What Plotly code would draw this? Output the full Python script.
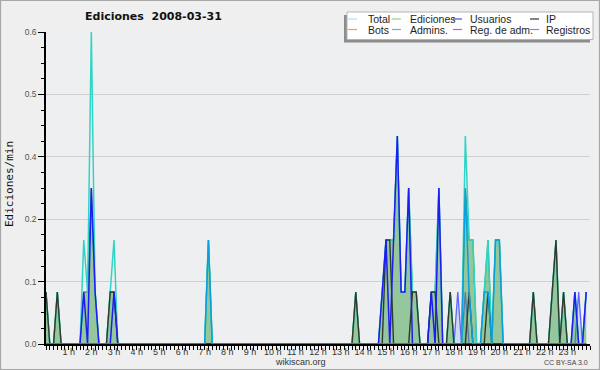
import plotly.graph_objects as go

# 10-minute bins over the day (hours)
hours = [i / 6 for i in range(144)]

total = [
    0.1, 0, 0, 0.1, 0, 0, 0, 0, 0, 0, 0.2, 0.1,
    0.6, 0.1, 0, 0, 0, 0.1, 0.2, 0, 0, 0, 0, 0,
    0, 0, 0, 0, 0, 0, 0, 0, 0, 0, 0, 0,
    0, 0, 0, 0, 0, 0, 0, 0.2, 0, 0, 0, 0,
    0, 0, 0, 0, 0, 0, 0, 0, 0, 0, 0, 0,
    0, 0, 0, 0, 0, 0, 0, 0, 0, 0, 0, 0,
    0, 0, 0, 0, 0, 0, 0, 0, 0, 0, 0.1, 0,
    0, 0, 0, 0, 0, 0.1, 0.2, 0.2, 0.2, 0.4, 0.1, 0.1,
    0.3, 0.1, 0.1, 0, 0, 0, 0.1, 0.1, 0.3, 0, 0, 0.1,
    0, 0, 0, 0.4, 0.2, 0.2, 0, 0, 0.1, 0.2, 0, 0.2,
    0.2, 0, 0, 0, 0, 0, 0, 0, 0, 0.1, 0, 0,
    0, 0, 0.1, 0.2, 0, 0.1, 0, 0, 0.1, 0, 0, 0.1,
]
ediciones = [
    0.1, 0, 0, 0.1, 0, 0, 0, 0, 0, 0, 0.1, 0.1,
    0.3, 0.1, 0, 0, 0, 0.1, 0.1, 0, 0, 0, 0, 0,
    0, 0, 0, 0, 0, 0, 0, 0, 0, 0, 0, 0,
    0, 0, 0, 0, 0, 0, 0, 0.2, 0, 0, 0, 0,
    0, 0, 0, 0, 0, 0, 0, 0, 0, 0, 0, 0,
    0, 0, 0, 0, 0, 0, 0, 0, 0, 0, 0, 0,
    0, 0, 0, 0, 0, 0, 0, 0, 0, 0, 0.1, 0,
    0, 0, 0, 0, 0, 0.1, 0.2, 0.2, 0.2, 0.4, 0.1, 0.1,
    0.3, 0.1, 0.1, 0, 0, 0, 0.1, 0.1, 0.3, 0, 0, 0.1,
    0, 0, 0, 0.3, 0.2, 0.2, 0, 0, 0.1, 0.2, 0, 0.2,
    0.2, 0, 0, 0, 0, 0, 0, 0, 0, 0.1, 0, 0,
    0, 0, 0.1, 0.2, 0, 0.1, 0, 0, 0.1, 0, 0, 0.1,
]
usuarios = [
    0, 0, 0, 0, 0, 0, 0, 0, 0, 0, 0.1, 0,
    0.3, 0.1, 0, 0, 0, 0, 0.1, 0, 0, 0, 0, 0,
    0, 0, 0, 0, 0, 0, 0, 0, 0, 0, 0, 0,
    0, 0, 0, 0, 0, 0, 0, 0, 0, 0, 0, 0,
    0, 0, 0, 0, 0, 0, 0, 0, 0, 0, 0, 0,
    0, 0, 0, 0, 0, 0, 0, 0, 0, 0, 0, 0,
    0, 0, 0, 0, 0, 0, 0, 0, 0, 0, 0, 0,
    0, 0, 0, 0, 0, 0.1, 0.2, 0, 0.2, 0.4, 0.1, 0.1,
    0.3, 0, 0, 0, 0, 0, 0.1, 0, 0.3, 0, 0, 0,
    0, 0, 0, 0, 0, 0, 0, 0, 0, 0, 0, 0,
    0, 0, 0, 0, 0, 0, 0, 0, 0, 0, 0, 0,
    0, 0, 0, 0, 0, 0, 0, 0, 0.1, 0, 0, 0.1,
]
ip = [
    0.1, 0, 0, 0.1, 0, 0, 0, 0, 0, 0, 0, 0,
    0, 0, 0, 0, 0, 0.1, 0.1, 0, 0, 0, 0, 0,
    0, 0, 0, 0, 0, 0, 0, 0, 0, 0, 0, 0,
    0, 0, 0, 0, 0, 0, 0, 0, 0, 0, 0, 0,
    0, 0, 0, 0, 0, 0, 0, 0, 0, 0, 0, 0,
    0, 0, 0, 0, 0, 0, 0, 0, 0, 0, 0, 0,
    0, 0, 0, 0, 0, 0, 0, 0, 0, 0, 0.1, 0,
    0, 0, 0, 0, 0, 0, 0.2, 0.2, 0, 0, 0, 0,
    0, 0.1, 0.1, 0, 0, 0, 0.1, 0.1, 0, 0, 0, 0.1,
    0, 0, 0, 0, 0.1, 0, 0, 0, 0, 0.1, 0, 0,
    0, 0, 0, 0, 0, 0, 0, 0, 0, 0.1, 0, 0,
    0, 0, 0.1, 0.2, 0, 0.1, 0, 0, 0, 0, 0, 0,
]
bots = [
    0, 0, 0, 0, 0, 0, 0, 0, 0, 0, 0, 0,
    0, 0, 0, 0, 0, 0, 0, 0, 0, 0, 0, 0,
    0, 0, 0, 0, 0, 0, 0, 0, 0, 0, 0, 0,
    0, 0, 0, 0, 0, 0, 0, 0, 0, 0, 0, 0,
    0, 0, 0, 0, 0, 0, 0, 0, 0, 0, 0, 0,
    0, 0, 0, 0, 0, 0, 0, 0, 0, 0, 0, 0,
    0, 0, 0, 0, 0, 0, 0, 0, 0, 0, 0, 0,
    0, 0, 0, 0, 0, 0, 0, 0, 0, 0, 0, 0,
    0, 0, 0, 0, 0, 0, 0, 0, 0, 0, 0, 0,
    0, 0, 0, 0, 0, 0, 0, 0, 0, 0, 0, 0,
    0, 0, 0, 0, 0, 0, 0, 0, 0, 0, 0, 0,
    0, 0, 0, 0, 0, 0, 0, 0, 0, 0, 0, 0,
]
admins = [
    0, 0, 0, 0, 0, 0, 0, 0, 0, 0, 0, 0,
    0, 0, 0, 0, 0, 0, 0, 0, 0, 0, 0, 0,
    0, 0, 0, 0, 0, 0, 0, 0, 0, 0, 0, 0,
    0, 0, 0, 0, 0, 0, 0, 0.2, 0, 0, 0, 0,
    0, 0, 0, 0, 0, 0, 0, 0, 0, 0, 0, 0,
    0, 0, 0, 0, 0, 0, 0, 0, 0, 0, 0, 0,
    0, 0, 0, 0, 0, 0, 0, 0, 0, 0, 0, 0,
    0, 0, 0, 0, 0, 0, 0, 0, 0, 0, 0, 0,
    0, 0, 0, 0, 0, 0, 0, 0, 0, 0, 0, 0,
    0, 0, 0, 0.3, 0.1, 0, 0, 0, 0.1, 0.1, 0, 0.2,
    0.2, 0, 0, 0, 0, 0, 0, 0, 0, 0, 0, 0,
    0, 0, 0, 0, 0, 0, 0, 0, 0, 0, 0, 0,
]
reg_adm = [
    0, 0, 0, 0, 0, 0, 0, 0, 0, 0, 0, 0,
    0, 0, 0, 0, 0, 0, 0, 0, 0, 0, 0, 0,
    0, 0, 0, 0, 0, 0, 0, 0, 0, 0, 0, 0,
    0, 0, 0, 0, 0, 0, 0, 0, 0, 0, 0, 0,
    0, 0, 0, 0, 0, 0, 0, 0, 0, 0, 0, 0,
    0, 0, 0, 0, 0, 0, 0, 0, 0, 0, 0, 0,
    0, 0, 0, 0, 0, 0, 0, 0, 0, 0, 0, 0,
    0, 0, 0, 0, 0, 0, 0, 0, 0, 0, 0, 0,
    0, 0, 0, 0, 0, 0, 0, 0, 0, 0, 0, 0,
    0, 0, 0, 0, 0, 0, 0, 0, 0, 0, 0, 0,
    0, 0, 0, 0, 0, 0, 0, 0, 0, 0, 0, 0,
    0, 0, 0, 0, 0, 0, 0, 0, 0, 0, 0, 0,
]
registros = [
    0, 0, 0, 0, 0, 0, 0, 0, 0, 0, 0, 0,
    0, 0, 0, 0, 0, 0, 0, 0, 0, 0, 0, 0,
    0, 0, 0, 0, 0, 0, 0, 0, 0, 0, 0, 0,
    0, 0, 0, 0, 0, 0, 0, 0, 0, 0, 0, 0,
    0, 0, 0, 0, 0, 0, 0, 0, 0, 0, 0, 0,
    0, 0, 0, 0, 0, 0, 0, 0, 0, 0, 0, 0,
    0, 0, 0, 0, 0, 0, 0, 0, 0, 0, 0, 0,
    0, 0, 0, 0, 0, 0, 0, 0, 0, 0, 0, 0,
    0, 0, 0, 0, 0, 0, 0, 0, 0, 0, 0, 0,
    0, 0.1, 0, 0.1, 0, 0, 0, 0, 0, 0, 0, 0,
    0, 0, 0, 0, 0, 0, 0, 0, 0, 0, 0, 0,
    0, 0, 0, 0, 0, 0, 0, 0, 0, 0.1, 0, 0,
]

y_tickvals = [0, 0.12, 0.24, 0.36, 0.48, 0.6]
y_ticktext = ["0.0", "0.1", "0.2", "0.4", "0.5", "0.6"]
x_tickvals = list(range(1, 24))
x_ticktext = [f"{h} h" for h in x_tickvals]

series_names = ["Total", "Ediciones", "Usuarios", "IP",
                "Bots", "Admins.", "Reg. de adm.", "Registros"]
legend_colors = ["#a8e6e2", "#8fd48f", "#4a4ae6", "#333333",
                 "#f2a23a", "#3cc6dc", "#c955dd", "#8585f0"]

W, H = 600, 370
ML, MR, MT, MB = 46, 10, 32, 26
PW, PH = W - ML - MR, H - MT - MB


def px(x):
    return (x - ML) / PW


def py(y):
    return (H - MB - y) / PH


fig = go.Figure()

fig.add_trace(go.Scatter(x=hours, y=registros, mode="lines", fill="tozeroy",
                         fillcolor="rgba(160,195,240,0.45)",
                         line=dict(color="#6262ff", width=1.3), showlegend=False))
fig.add_trace(go.Scatter(x=hours, y=bots, mode="lines",
                         line=dict(color="#f2a23a", width=1.3), showlegend=False))
fig.add_trace(go.Scatter(x=hours, y=reg_adm, mode="lines",
                         line=dict(color="#c955dd", width=1.3), showlegend=False))
fig.add_trace(go.Scatter(x=hours, y=ediciones, mode="lines", fill="tozeroy",
                         fillcolor="rgba(62,160,72,0.5)",
                         line=dict(color="#44b244", width=1.3), showlegend=False))
fig.add_trace(go.Scatter(x=hours, y=total, mode="lines",
                         line=dict(color="#30d4c6", width=1.5), showlegend=False))
fig.add_trace(go.Scatter(x=hours, y=ip, mode="lines",
                         line=dict(color="#2e3a2e", width=1.4), showlegend=False))
fig.add_trace(go.Scatter(x=hours, y=usuarios, mode="lines",
                         line=dict(color="#1c1cf5", width=1.5), showlegend=False))
fig.add_trace(go.Scatter(x=hours, y=admins, mode="lines",
                         line=dict(color="#0a9fdc", width=1.5), showlegend=False))

shapes = []
annotations = []

# outer frame
shapes.append(dict(type="rect", xref="paper", yref="paper",
                   x0=px(0.5), x1=px(599.5), y0=py(0.5), y1=py(369.5),
                   line=dict(color="#a6a6a6", width=1.2), fillcolor="rgba(0,0,0,0)",
                   layer="above"))

# legend box with shadow
shapes.append(dict(type="rect", xref="paper", yref="paper",
                   x0=px(344), x1=px(590), y0=py(15), y1=py(42.5),
                   line=dict(width=0), fillcolor="#8c8c8c", layer="above"))
shapes.append(dict(type="rect", xref="paper", yref="paper",
                   x0=px(347), x1=px(593), y0=py(12), y1=py(39.5),
                   line=dict(color="#b4b4b4", width=1), fillcolor="#ffffff", layer="above"))

col_sample_x = [348, 392, 453, 530]
col_text_x = [366, 408, 468, 544]
row_y = [19, 29.5]
for k, name in enumerate(series_names):
    r, c = divmod(k, 4)
    shapes.append(dict(type="line", xref="paper", yref="paper",
                       x0=px(col_sample_x[c]), x1=px(col_sample_x[c] + 9),
                       y0=py(row_y[r]), y1=py(row_y[r]),
                       line=dict(color=legend_colors[k], width=1.2), layer="above"))
    annotations.append(dict(text=name, xref="paper", yref="paper",
                            x=px(col_text_x[c]), y=py(row_y[r]),
                            xanchor="left", yanchor="middle", showarrow=False,
                            font=dict(family="Liberation Sans", size=10.5, color="#1e1e1e")))

annotations.append(dict(text="<b>Ediciones\u00a0\u00a02008-03-31</b>", xref="paper", yref="paper",
                        x=px(153.5), y=py(17), xanchor="center", yanchor="middle",
                        showarrow=False,
                        font=dict(family="DejaVu Sans", size=11, color="#111111")))
annotations.append(dict(text="Ediciones/min", xref="paper", yref="paper",
                        x=px(9), y=py(184), xanchor="center", yanchor="middle",
                        textangle=-90, showarrow=False,
                        font=dict(family="DejaVu Sans Mono", size=11, color="#111111")))
annotations.append(dict(text="wikiscan.org", xref="paper", yref="paper",
                        x=px(300), y=py(361.5), xanchor="center", yanchor="middle",
                        showarrow=False,
                        font=dict(family="Liberation Sans", size=9, color="#333333")))
annotations.append(dict(text="CC BY-SA 3.0", xref="paper", yref="paper",
                        x=px(590), y=py(362.5), xanchor="right", yanchor="middle",
                        showarrow=False,
                        font=dict(family="Liberation Sans", size=7, color="#444444")))

fig.update_layout(
    width=W, height=H,
    margin=dict(l=ML, r=MR, t=MT, b=MB, pad=0),
    paper_bgcolor="#efefef",
    plot_bgcolor="#eeeff1",
    showlegend=False,
    shapes=shapes,
    annotations=annotations,
    xaxis=dict(
        range=[0, 24], tickmode="array", tickvals=x_tickvals, ticktext=x_ticktext,
        ticks="outside", ticklen=4, tickwidth=1, tickcolor="#000000",
        ticklabelstandoff=-6,
        showgrid=False, zeroline=False,
        showline=True, linecolor="#000000", linewidth=1.5,
        tickfont=dict(family="Liberation Sans", size=9, color="#333333"),
        minor=dict(ticks="outside", ticklen=4, tick0=0, dtick=1 / 6,
                   tickcolor="#000000", tickwidth=1, showgrid=False),
    ),
    yaxis=dict(
        range=[0, 0.6], tickmode="array", tickvals=y_tickvals, ticktext=y_ticktext,
        ticks="outside", ticklen=6, tickwidth=1, tickcolor="#000000",
        showgrid=True, gridcolor="#cfcfcf", gridwidth=1, zeroline=False,
        showline=True, linecolor="#000000", linewidth=1.5,
        tickfont=dict(family="Liberation Sans", size=8.5, color="#555555"),
        minor=dict(ticks="outside", ticklen=3, tick0=0, dtick=0.03,
                   tickcolor="#000000", tickwidth=1, showgrid=False),
    ),
)

fig.write_html("out.html", config={"displayModeBar": False},
               post_script="document.body.style.margin='0';document.body.style.overflow='hidden';")
